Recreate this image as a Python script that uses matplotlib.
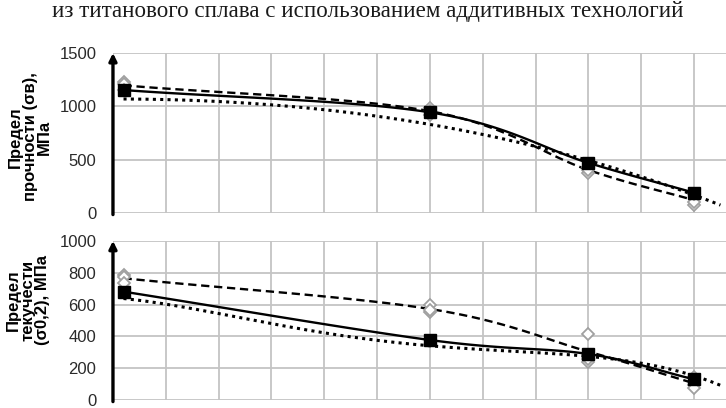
import matplotlib
matplotlib.use("Agg")
import matplotlib.pyplot as plt
import numpy as np

# temperature, degC
temps = [20, 600, 900, 1100]

# ultimate strength, MPa
uts_main = [1153, 944, 470, 190]
uts_spec1 = [1231, 985, 375, 75]
uts_spec2 = [1205, 960, 430, 106]
uts_spec3 = [1155, 920, 404, 180]
uts_trend_x = [20, 196, 466, 600, 692, 900, 1100, 1150]
uts_trend_y = [1082, 1022, 919, 856, 772, 455, 153, 97]

# yield strength, MPa
ys_main = [681, 377, 289, 130]
ys_spec1 = [786, 597, 413, 95]
ys_spec2 = [772, 555, 241, 75]
ys_spec3 = [737, 564, 258, 145]
ys_trend_x = [20, 200, 400, 600, 700, 800, 900, 1000, 1100, 1150]
ys_trend_y = [640, 534, 437, 338, 304, 296, 290, 233, 138, 100]

title = "из титанового сплава с использованием аддитивных технологий"
uts_label = "Предел\nпрочности (σв),\nМПа"
ys_label = "Предел\nтекучести\n(σ0,2), МПа"


def smooth(x, y, n=40):
    # catmull-rom, like excel "smoothed line"
    p = np.column_stack([x, y]).astype(float)
    m = np.zeros_like(p)
    m[0] = p[1] - p[0]
    m[-1] = p[-1] - p[-2]
    for i in range(1, len(p) - 1):
        m[i] = (p[i + 1] - p[i - 1]) / 2
    out = []
    t = np.linspace(0, 1, n)[:, None]
    for i in range(len(p) - 1):
        h00 = 2 * t**3 - 3 * t**2 + 1
        h10 = t**3 - 2 * t**2 + t
        h01 = -2 * t**3 + 3 * t**2
        h11 = t**3 - t**2
        out.append(h00 * p[i] + h10 * m[i] + h01 * p[i + 1] + h11 * m[i + 1])
    out = np.vstack(out)
    return out[:, 0], out[:, 1]


def drawPanel(ax, main, specs, tx, ty, deg, ymax, ystep):
    ax.set_xlim(0, 1160)
    ax.set_ylim(0, ymax)
    ax.set_xticks(np.arange(0, 1101, 100))
    ax.set_yticks(np.arange(0, ymax + 1, ystep))
    ax.set_xticklabels([])
    ax.grid(True, color="#c4c4c4", lw=1.3)
    ax.set_axisbelow(True)
    for s in ax.spines.values():
        s.set_visible(False)
    ax.tick_params(length=0, pad=12, labelsize=12, labelcolor="#2a2a2a")
    for lab in ax.get_yticklabels():
        lab.set_family("Liberation Sans")

    mean = np.mean(specs, axis=0)
    sx, sy = smooth(temps, mean)
    ax.plot(sx, sy, color="black", lw=1.7, ls=(0, (3.5, 2)), zorder=3)
    for sp in specs:
        ax.plot(temps, sp, ls="none", marker="D", ms=6.3, mfc="white",
                mec="#a0a0a0", mew=1.3, zorder=4)

    coef = np.polyfit(tx, ty, deg)
    xx = np.linspace(tx[0], tx[-1], 200)
    ax.plot(xx, np.polyval(coef, xx), color="black", lw=2.2,
            ls=(0, (1, 1.4)), zorder=5)

    mx, my = smooth(temps, main)
    ax.plot(mx, my, color="black", lw=1.7, zorder=6)
    ax.plot(temps, main, ls="none", marker="s", ms=8.5, color="black", zorder=7)

    ax.annotate("", xy=(0, 1.0), xytext=(0, -0.01), xycoords="axes fraction",
                arrowprops=dict(arrowstyle="-|>", lw=2.4, color="black",
                                mutation_scale=11, shrinkA=0, shrinkB=0),
                annotation_clip=False, zorder=8)


fig = plt.figure(figsize=(7.26, 4.08), dpi=100)
ax1 = fig.add_axes([0.1556, 0.478, 0.844, 0.392])
ax2 = fig.add_axes([0.1556, 0.0196, 0.844, 0.390])

drawPanel(ax1, uts_main, [uts_spec1, uts_spec2, uts_spec3],
          uts_trend_x, uts_trend_y, 3, 1500, 500)
drawPanel(ax2, ys_main, [ys_spec1, ys_spec2, ys_spec3],
          ys_trend_x, ys_trend_y, 4, 1000, 200)

fig.text(368 / 726, 1 - 12 / 408, title, ha="center", va="center",
         family="Liberation Serif", fontsize=16.6, color="#1a1a1a")
fig.text(30 / 726, 1 - 137 / 408, uts_label, rotation=90, ha="center",
         va="center", multialignment="center", family="Liberation Sans",
         fontweight="bold", fontsize=12, linespacing=0.97)
fig.text(28 / 726, 1 - 300 / 408, ys_label, rotation=90, ha="center",
         va="center", multialignment="center", family="Liberation Sans",
         fontweight="bold", fontsize=12, linespacing=0.97)

fig.savefig("out.png", dpi=100)
